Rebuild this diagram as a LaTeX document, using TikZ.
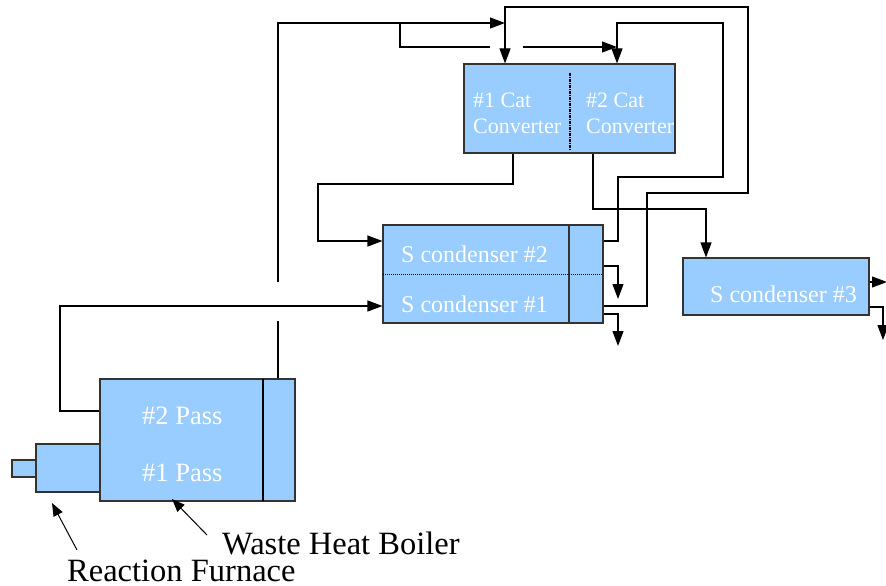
\documentclass[tikz,border=0pt]{standalone}
\usepackage{fontspec}
\setmainfont{Liberation Serif}
\usetikzlibrary{arrows.meta}
\definecolor{boxblue}{HTML}{99CCFF}
\definecolor{edge}{HTML}{333333}
\tikzset{
  unit/.style={draw=edge, line width=1.1pt, fill=boxblue, rectangle, inner sep=0pt},
  flow/.style={draw=black, line width=1.1pt},
  arr/.style={flow, -{Triangle[length=15pt,width=11pt]}},
  parr/.style={flow, line width=1pt, -{Triangle[length=13pt,width=10pt]}},
  wtxt/.style={text=white, inner sep=0pt, anchor=base west},
  btxt/.style={text=black, inner sep=0pt, anchor=base west, font=\fontsize{32.5}{36}\selectfont},
}
\begin{document}
\begin{tikzpicture}[x=1pt,y=-1pt]
\useasboundingbox (0,0) rectangle (886,586);
% units
\node[unit, minimum width=211pt, minimum height=89pt] (cat) at (569.5,108.5) {};
\node[unit, minimum width=220pt, minimum height=98pt] (sc) at (493,274) {};
\node[unit, minimum width=186pt, minimum height=57pt] (sc3) at (776,286.5) {};
\node[unit, minimum width=195pt, minimum height=122pt] (whb) at (197.5,440) {};
\node[unit, minimum width=64pt, minimum height=48pt] (furn) at (68,468) {};
\node[unit, minimum width=24pt, minimum height=17pt] (burn) at (24,468.5) {};
% internal dividers
\draw[black, line width=1.3pt, dash pattern=on 3pt off 1pt on 1pt off 1pt] (570,73) -- (570,150);
\draw[edge, line width=1.1pt] (569,225) -- (569,323);
\draw[black, line width=1pt, densely dotted] (383,274) -- (603,274);
\draw[black, line width=1.1pt] (263,379) -- (263,501);
% texts
\begin{scope}[font=\fontsize{22}{26}\selectfont]
\node[wtxt] (t1a) at (473,107) {\#1 Cat};
\node[wtxt] (t1b) at (473,133) {Converter};
\node[wtxt] (t2a) at (586,107) {\#2 Cat};
\node[wtxt] (t2b) at (586,133) {Converter};
\end{scope}
\begin{scope}[font=\fontsize{24}{28}\selectfont]
\node[wtxt] (s2) at (401,262) {S condenser \#2};
\node[wtxt] (s1) at (401,312) {S condenser \#1};
\node[wtxt] (s3) at (710,302) {S condenser \#3};
\end{scope}
\begin{scope}[font=\fontsize{26.5}{30}\selectfont]
\node[wtxt] (p2) at (142,424) {\#2 Pass};
\node[wtxt] (p1) at (142,481) {\#1 Pass};
\end{scope}
\node[btxt] (lwhb) at (222,554) {Waste Heat Boiler};
\node[btxt] (lrf) at (67,581) {Reaction Furnace};
% helper coordinates
\coordinate (j1) at (505,23);
\coordinate (j2) at (617,47);
% hot gas bypass
\draw[flow] (whb.north -| 278,0) -- (278,321);
\draw[arr] (278,282) -- (278,23) -- (j1);
\draw[flow] (400,23) -- (400,47) -- (490,47);
\draw[arr] (523,47) -- (j2);
% S cond #1 outlet to cat #1
\draw[arr] (sc.east |- 0,306) -- (647,306) -- (647,193) -- (748,193) -- (748,7) -- (505,7) -- (cat.north -| 505,0);
% S cond #2 outlet to cat #2
\draw[arr] (sc.east |- 0,241) -- (618,241) -- (618,177) -- (723,177) -- (723,23) -- (617,23) -- (cat.north -| 617,0);
% cat #1 outlet to S cond #2
\draw[arr] (cat.south -| 513,0) -- (513,184) -- (318,184) -- (318,241) -- (sc.west |- 0,241);
% cat #2 outlet to S cond #3
\draw[arr] (cat.south -| 593,0) -- (593,209) -- (706,209) -- (sc3.north -| 706,0);
% WHB to S cond #1
\draw[arr] (whb.west |- 0,411) -- (60,411) -- (60,306) -- (sc.west |- 0,306);
% sulfur drains
\draw[arr] (sc.east |- 0,266) -- (618,266) -- (618,299);
\draw[arr] (sc.east |- 0,314) -- (618,314) -- (618,346);
\draw[arr] (sc3.east |- 0,282) -- (887,282);
\draw[arr] (sc3.east |- 0,307) -- (883,307) -- (883,340);
% label pointers
\draw[parr] (77,550) -- (52,503);
\draw[parr] (207,535) -- (172,499);
\end{tikzpicture}
\end{document}
